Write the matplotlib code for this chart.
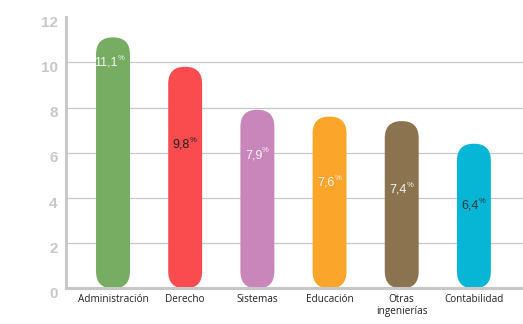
import matplotlib.pyplot as plt
from matplotlib.patches import FancyBboxPatch
from matplotlib import transforms

careers = ["Administración", "Derecho", "Sistemas", "Educación",
           "Otras\ningenierías", "Contabilidad"]
values = [11.1, 9.8, 7.9, 7.6, 7.4, 6.4]
value_text = ["11,1", "9,8", "7,9", "7,6", "7,4", "6,4"]
yticks = [0, 2, 4, 6, 8, 10, 12]

colors = ["#76ad63", "#fa4b4e", "#c986ba", "#fba62a", "#8b7350", "#06b6d4"]
text_colors = ["#f4f4f4", "#222222", "#f4f4f4", "#f4f4f4", "#f4f4f4", "#333333"]
# where the labels sit inside each bar (y, data units)
label_y = [9.98, 6.35, 5.9, 4.68, 4.36, 3.68]

fig = plt.figure(figsize=(5.23, 3.24), dpi=100)
ax = fig.add_axes([0.1262, 0.1096, 0.8738, 0.8379])
ax.set_xlim(-0.651, 5.68)
ax.set_ylim(0, 12)

grey = "#c8c8c8"
x = list(range(len(careers)))
ax.hlines(yticks[1:-1], -0.651, 5.68, color=grey, lw=0.9, zorder=1)

bars = ax.bar(x, values, width=0.47, alpha=0)

# px per data unit, to keep the rounded ends circular
fig.canvas.draw()
p0 = ax.transData.transform((0, 0))
p1 = ax.transData.transform((1, 1))
aspect = (p1[0] - p0[0]) / (p1[1] - p0[1])

for b, c in zip(bars, colors):
    w = b.get_width()
    r = w / 2
    patch = FancyBboxPatch((b.get_x(), b.get_y()), w, b.get_height(),
                           boxstyle=f"round,pad=0,rounding_size={r}",
                           mutation_aspect=aspect, fc=c, ec="none", zorder=2)
    ax.add_patch(patch)

for i, (t, ly, tc) in enumerate(zip(value_text, label_y, text_colors)):
    ax.annotate(t, (i, ly), xytext=(3.5, 0), textcoords="offset points",
                ha="right", va="center", color=tc, fontsize=9,
                family="Liberation Sans", zorder=3)
    ax.annotate("%", (i, ly), xytext=(3.5, 3), textcoords="offset points",
                ha="left", va="center", color=tc, fontsize=5.5,
                family="Liberation Sans", zorder=3)

for s in ["top", "right"]:
    ax.spines[s].set_visible(False)
for s in ["left", "bottom"]:
    ax.spines[s].set_color(grey)
    ax.spines[s].set_linewidth(2.2)

ax.set_yticks(yticks)
ax.set_yticklabels([str(v) for v in yticks], fontsize=11, fontweight="bold",
                   color=grey, family="Liberation Sans")
ax.tick_params(axis="y", length=0, pad=6)
shift = transforms.ScaledTranslation(0, -3 / 72, fig.dpi_scale_trans)
for lbl in ax.get_yticklabels():
    lbl.set_transform(lbl.get_transform() + shift)

ax.set_xticks(x)
ax.set_xticklabels(careers, fontsize=7.2, color="#222222", family="Open Sans",
                   linespacing=1.1)
ax.tick_params(axis="x", length=0, pad=4)

fig.savefig("out.png", dpi=100)
